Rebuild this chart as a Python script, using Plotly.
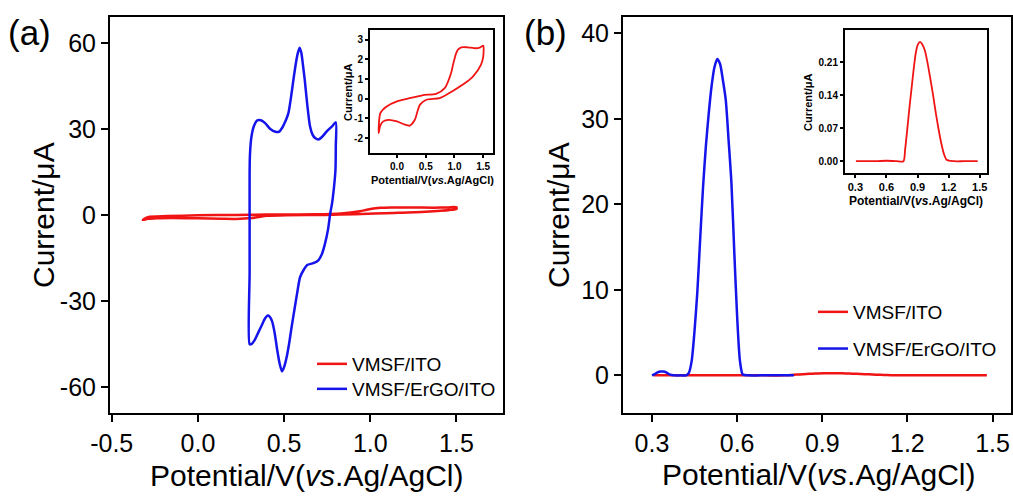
import plotly.graph_objects as go

# ---------------- data ----------------
# Panel (a): CV of VMSF/ErGO/ITO (blue)
cv_blue_x = [0.300, 0.300, 0.300, 0.300, 0.302, 0.310, 0.325, 0.345, 0.365, 0.390, 0.420, 0.450, 0.470,
             0.490, 0.510, 0.525, 0.540, 0.555, 0.570, 0.580, 0.590, 0.600, 0.610, 0.620, 0.630, 0.640,
             0.650, 0.665, 0.680, 0.700, 0.720, 0.750, 0.780, 0.800,
             0.800, 0.798, 0.790, 0.778, 0.768, 0.755, 0.738, 0.720, 0.700, 0.670, 0.634, 0.615, 0.593,
             0.575, 0.560, 0.545, 0.530, 0.515, 0.500, 0.488, 0.475, 0.460, 0.445, 0.430, 0.415, 0.405,
             0.390, 0.370, 0.350, 0.330, 0.310, 0.300]
cv_blue_y = [-45.0, -20.0, 0.0, 15.0, 21.0, 27.0, 31.0, 33.0, 33.0, 32.0, 30.0, 29.0, 29.0,
             30.5, 33.0, 35.5, 41.0, 47.5, 53.5, 56.5, 58.3, 56.5, 52.0, 47.0, 41.0, 35.5,
             31.0, 28.0, 26.8, 26.3, 27.2, 29.3, 31.0, 32.3,
             24.0, 15.7, 10.0, 4.0, 0.7, -5.0, -9.8, -13.5, -15.7, -16.8, -17.4, -19.0, -21.6,
             -27.5, -33.0, -38.5, -44.5, -49.5, -53.0, -54.5, -52.0, -47.0, -41.0, -37.0, -35.3, -35.0,
             -36.0, -38.5, -41.0, -43.5, -45.0, -45.0]

# Panel (a) & inset: CV of VMSF/ITO (red)
cv_red_x = [-0.32, -0.29, -0.24, -0.15, 0.00, 0.14, 0.22, 0.31, 0.36, 0.40, 0.51, 0.74, 0.91, 1.14, 1.32,
            1.46, 1.50, 1.50,
            1.45, 1.37, 1.23, 1.12, 1.06, 1.03, 0.98, 0.94, 0.83, 0.68, 0.48, 0.40, 0.22, 0.00, -0.18,
            -0.29, -0.32]
cv_red_y = [-1.75, -1.35, -1.15, -1.07, -1.15, -1.32, -1.37, -1.07, -0.60, -0.30, -0.05, 0.03, 0.29, 0.71,
            1.13, 1.73, 2.15, 2.70,
            2.62, 2.57, 2.62, 2.62, 2.50, 2.32, 1.80, 1.30, 0.54, 0.25, 0.20, 0.15, 0.03, -0.13, -0.39,
            -0.73, -1.75]

# Panel (b): DPV of VMSF/ErGO/ITO (blue)
dpv_blue_x = [0.300, 0.310, 0.320, 0.330, 0.340, 0.350, 0.360, 0.370, 0.380, 0.400, 0.420, 0.430, 0.440,
              0.450, 0.460, 0.470, 0.480, 0.490, 0.500, 0.510, 0.520, 0.530, 0.540, 0.550, 0.560, 0.570,
              0.580, 0.590, 0.600, 0.610, 0.620, 0.640, 0.680, 0.720, 0.760, 0.800]
dpv_blue_y = [0.0, 0.15, 0.35, 0.45, 0.45, 0.35, 0.15, 0.05, 0.0, 0.0, 0.0, 0.3, 1.7,
              5.2, 9.8, 16.0, 22.0, 26.8, 30.6, 33.8, 36.0, 37.0, 36.4, 34.5, 32.2, 27.5,
              22.5, 14.5, 7.0, 1.7, 0.1, 0.0, 0.0, 0.0, 0.0, 0.0]

# Panel (b) & inset: DPV of VMSF/ITO (red)
dpv_red_x = [0.305, 0.40, 0.50, 0.60, 0.70, 0.764, 0.780, 0.800, 0.820, 0.844, 0.865, 0.885, 0.905, 0.924,
             0.945, 0.970, 0.995, 1.020, 1.050, 1.077, 1.105, 1.130, 1.155, 1.180, 1.25, 1.35, 1.48]
dpv_red_y = [0.000, 0.000, 0.000, 0.001, 0.000, 0.000, 0.025, 0.066, 0.110, 0.158, 0.200, 0.232, 0.248,
             0.253, 0.248, 0.235, 0.210, 0.179, 0.140, 0.101, 0.065, 0.037, 0.015, 0.003, 0.000, 0.000,
             0.000]

names = ["VMSF/ITO", "VMSF/ErGO/ITO"]
RED = "rgb(240,20,20)"
BLUE = "rgb(20,20,235)"

# tick values / labels
xa_ticks = [-0.5, 0.0, 0.5, 1.0, 1.5]
xa_labels = ["-0.5", "0.0", "0.5", "1.0", "1.5"]
ya_ticks = [-60, -30, 0, 30, 60]
ya_labels = ["-60", "-30", "0", "30", "60"]
xb_ticks = [0.3, 0.6, 0.9, 1.2, 1.5]
xb_labels = ["0.3", "0.6", "0.9", "1.2", "1.5"]
yb_ticks = [0, 10, 20, 30, 40]
yb_labels = ["0", "10", "20", "30", "40"]
xia_ticks = [0.0, 0.5, 1.0, 1.5]
xia_labels = ["0.0", "0.5", "1.0", "1.5"]
yia_ticks = [-2, -1, 0, 1, 2, 3]
yia_labels = ["-2", "-1", "0", "1", "2", "3"]
xib_ticks = [0.3, 0.6, 0.9, 1.2, 1.5]
xib_labels = ["0.3", "0.6", "0.9", "1.2", "1.5"]
yib_ticks = [0.0, 0.07, 0.14, 0.21]
yib_labels = ["0.00", "0.07", "0.14", "0.21"]

XTITLE = "Potential/V(<i>vs</i>.Ag/AgCl)"
YTITLE = "Current/μA"

W, H = 1013, 498
def px(x):
    return x / W
def py(y):
    return 1 - y / H

fig = go.Figure()
SPL = dict(shape="spline", smoothing=0.7)

# main (a)
fig.add_trace(go.Scatter(x=cv_red_x, y=cv_red_y, mode="lines", name=names[0],
                         line=dict(color=RED, width=2.5, **SPL), xaxis="x", yaxis="y", legend="legend"))
fig.add_trace(go.Scatter(x=cv_blue_x, y=cv_blue_y, mode="lines", name=names[1],
                         line=dict(color=BLUE, width=2.5, **SPL), xaxis="x", yaxis="y", legend="legend3"))
# main (b)
fig.add_trace(go.Scatter(x=dpv_red_x, y=dpv_red_y, mode="lines", name=names[0],
                         line=dict(color=RED, width=2.5, **SPL), xaxis="x2", yaxis="y2", legend="legend2",
                         legendgroup="r"))
fig.add_trace(go.Scatter(x=dpv_blue_x, y=dpv_blue_y, mode="lines", name=names[1],
                         line=dict(color=BLUE, width=2.5, **SPL), xaxis="x2", yaxis="y2", legend="legend2",
                         legendgroup="b"))
# inset (a)
fig.add_trace(go.Scatter(x=cv_red_x, y=cv_red_y, mode="lines", showlegend=False,
                         line=dict(color=RED, width=1.8, **SPL), xaxis="x3", yaxis="y3"))
# inset (b)
fig.add_trace(go.Scatter(x=dpv_red_x, y=dpv_red_y, mode="lines", showlegend=False,
                         line=dict(color=RED, width=1.8, **SPL), xaxis="x4", yaxis="y4"))

FONT = "Liberation Sans, Arial, sans-serif"

def main_axis(domain, rng, tv, tt, anchor):
    return dict(domain=domain, range=rng, tickvals=tv, ticktext=tt, ticks="outside", ticklen=7, tickwidth=2,
                tickcolor="black", showline=True, linewidth=2, linecolor="black", mirror=True,
                showgrid=False, zeroline=False, anchor=anchor, automargin=False,
                tickfont=dict(family=FONT, size=25, color="black"))

def inset_axis(domain, rng, tv, tt, anchor, tsize):
    return dict(domain=domain, range=rng, tickvals=tv, ticktext=tt, ticks="outside", ticklen=3, tickwidth=1.5,
                tickcolor="black", showline=True, linewidth=2, linecolor="black", mirror=True,
                showgrid=False, zeroline=False, anchor=anchor, automargin=False,
                tickfont=dict(family=FONT, size=tsize, color="black", weight="bold"))

def title_ann(text, x, y, size, angle=0, bold=False):
    return dict(text=text, x=px(x), y=py(y), xref="paper", yref="paper", xanchor="center", yanchor="middle",
                showarrow=False, textangle=angle,
                font=dict(family=FONT, size=size, color="black", weight="bold" if bold else "normal"))

ydom = [py(413), py(17)]
legfont = dict(family=FONT, size=19, color="black")
fig.update_layout(
    width=W, height=H, margin=dict(l=0, r=0, t=0, b=0),
    paper_bgcolor="white", plot_bgcolor="white",
    xaxis=main_axis([px(110), px(503)], [-0.51, 1.77], xa_ticks, xa_labels, "y"),
    yaxis=main_axis(ydom, [-69, 69], ya_ticks, ya_labels, "x"),
    xaxis2=main_axis([px(623), px(1011)], [0.198, 1.565], xb_ticks, xb_labels, "y2"),
    yaxis2=main_axis(ydom, [-4.4, 41.9], yb_ticks, yb_labels, "x2"),
    xaxis3=inset_axis([px(370), px(493)], [-0.47, 1.67], xia_ticks, xia_labels, "y3", 10),
    yaxis3=inset_axis([py(153), py(30)], [-2.76, 3.5], yia_ticks, yia_labels, "x3", 10),
    xaxis4=inset_axis([px(845), px(987)], [0.2, 1.57], xib_ticks, xib_labels, "y4", 11),
    yaxis4=inset_axis([py(173), py(30)], [-0.025, 0.278], yib_ticks, yib_labels, "x4", 10),
    legend=dict(x=px(312), y=py(345), xanchor="left", yanchor="top", bgcolor="rgba(0,0,0,0)",
                font=legfont, tracegroupgap=0),
    legend3=dict(x=px(312), y=py(370), xanchor="left", yanchor="top", bgcolor="rgba(0,0,0,0)",
                 font=legfont, tracegroupgap=0),
    legend2=dict(x=px(813), y=py(293), xanchor="left", yanchor="top", bgcolor="rgba(0,0,0,0)",
                 font=legfont, tracegroupgap=9),
    annotations=[
        dict(text="(a)", x=px(6), y=py(32), xref="paper", yref="paper", xanchor="left", yanchor="middle",
             showarrow=False, font=dict(family=FONT, size=35, color="black")),
        dict(text="(b)", x=px(522), y=py(32), xref="paper", yref="paper", xanchor="left", yanchor="middle",
             showarrow=False, font=dict(family=FONT, size=35, color="black")),
        title_ann(XTITLE, 306, 475, 30),
        title_ann(XTITLE, 818, 474, 30),
        title_ann(YTITLE, 43, 215, 30, -90),
        title_ann(YTITLE, 558, 215, 30, -90),
        title_ann(XTITLE, 432, 180, 11, 0, True),
        title_ann(XTITLE, 916, 201, 12, 0, True),
        title_ann(YTITLE, 348, 92, 11, -90, True),
        title_ann(YTITLE, 808, 102, 11, -90, True),
    ],
)

fig.write_html("out.html")
